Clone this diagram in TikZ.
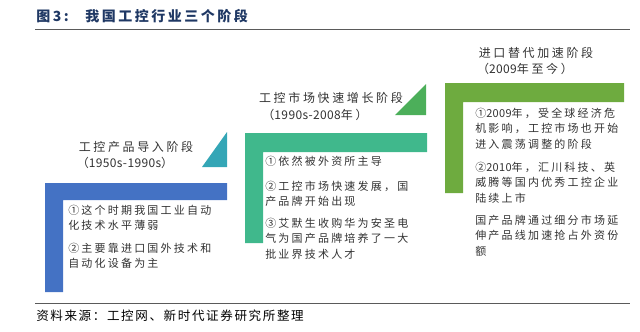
\documentclass[tikz,border=0pt]{standalone}
\usepackage{fontspec}
\setmainfont{Noto Sans CJK SC}
\newfontfamily\bodyfont[LetterSpace=20]{Noto Sans CJK SC}
\newfontfamily\headfont[LetterSpace=22]{Noto Sans CJK SC}
\newfontfamily\titlefont[LetterSpace=18]{Noto Sans CJK SC}
\newfontfamily\notefont[LetterSpace=13]{Noto Sans CJK SC}
\newcommand\digits[1]{{\addfontfeature{LetterSpace=3}#1}}
\definecolor{titleblue}{RGB}{31,56,100}
\definecolor{linegray}{RGB}{90,90,90}
\definecolor{textgray}{RGB}{50,50,50}
\definecolor{stageblue}{RGB}{68,114,196}
\definecolor{stageteal}{RGB}{52,166,182}
\definecolor{stagemint}{RGB}{64,184,140}
\definecolor{stagegreen}{RGB}{76,175,90}
\definecolor{stagelime}{RGB}{110,171,63}
\begin{document}
\begin{tikzpicture}[x=0.75pt,y=0.75pt,yscale=-1,xscale=1,
    stagehead/.style={inner sep=0pt, text=textgray, font=\headfont\fontsize{9}{11}\selectfont},
    stagebody/.style={anchor=north west, inner sep=0pt, align=left, text=textgray, font=\bodyfont\fontsize{8.25}{11.6}\selectfont}]
            \useasboundingbox (0,0) rectangle (640,332);
            % title and rules
            \node [anchor=west, inner sep=0pt, text=titleblue, font=\titlefont\fontsize{10.5}{12}\selectfont\bfseries] (fignum) at (36,16) {图3:};
            \node [anchor=west, inner sep=0pt, text=titleblue, font=\titlefont\fontsize{10.5}{12}\selectfont\bfseries] (figtitle) at (85,16) {我国工控行业三个阶段};
            \draw [color=linegray, line width=0.7pt] (35,29) -- (630,29) ;
            \draw [color=linegray, line width=0.7pt] (35,303) -- (630,303) ;
            \node [anchor=west, inner sep=0pt, text=black, font=\notefont\fontsize{9.4}{11}\selectfont] (source) at (36,316) {资料来源：工控网、新时代证券研究所整理};
            % stage 1
            \fill [stageblue] (45,183) -- (227,183) -- (227,200) -- (63,200) -- (63,292) -- (45,292) -- cycle ;
            \fill [stageteal] (202,167) -- (227,132) -- (227,167) -- cycle ;
            \node [stagehead] (headone) at (136,147) {工控产品导入阶段};
            \node [stagehead] (yearone) at (125,163) {（\digits{1950s-1990s}）};
            \node [stagebody] (oneA) at (68,204.5) {①这个时期我国工业自动\\化技术水平薄弱};
            \node [stagebody] (oneB) at (68,242.5) {②主要靠进口国外技术和\\自动化设备为主};
            % stage 2
            \fill [stagemint] (245,133) -- (427,133) -- (427,152) -- (263,152) -- (263,243) -- (245,243) -- cycle ;
            \fill [stagegreen] (395,115) -- (426,84) -- (426,115) -- cycle ;
            \node [stagehead] (headtwo) at (331,98) {工控市场快速增长阶段};
            \node [stagehead] (yeartwo) at (315,115) {（\digits{1990s-2008}年）};
            \node [stagebody] (twoA) at (265,155.5) {①依然被外资所主导};
            \node [stagebody] (twoB) at (265,180.5) {②工控市场快速发展，国\\产品牌开始出现};
            \node [stagebody] (twoC) at (265,217.5) {③艾默生收购华为安圣电\\气为国产品牌培养了一大\\批业界技术人才};
            % stage 3
            \fill [stagelime] (445,83) -- (624,83) -- (624,102) -- (463,102) -- (463,193) -- (445,193) -- cycle ;
            \node [stagehead] (headthree) at (536,53) {进口替代加速阶段};
            \node [stagehead] (yearthree) at (525,69) {（\digits{2009}年至今）};
            \node [stagebody] (threeA) at (475,107.5) {①\digits{2009}年，受全球经济危\\机影响，工控市场也开始\\进入震荡调整的阶段};
            \node [stagebody] (threeB) at (475,161.5) {②\digits{2010}年，汇川科技、英\\威腾等国内优秀工控企业\\陆续上市};
            \node [stagebody] (threeC) at (475,214.5) {国产品牌通过细分市场延\\伸产品线加速抢占外资份\\额};
        \end{tikzpicture}
\end{document}
